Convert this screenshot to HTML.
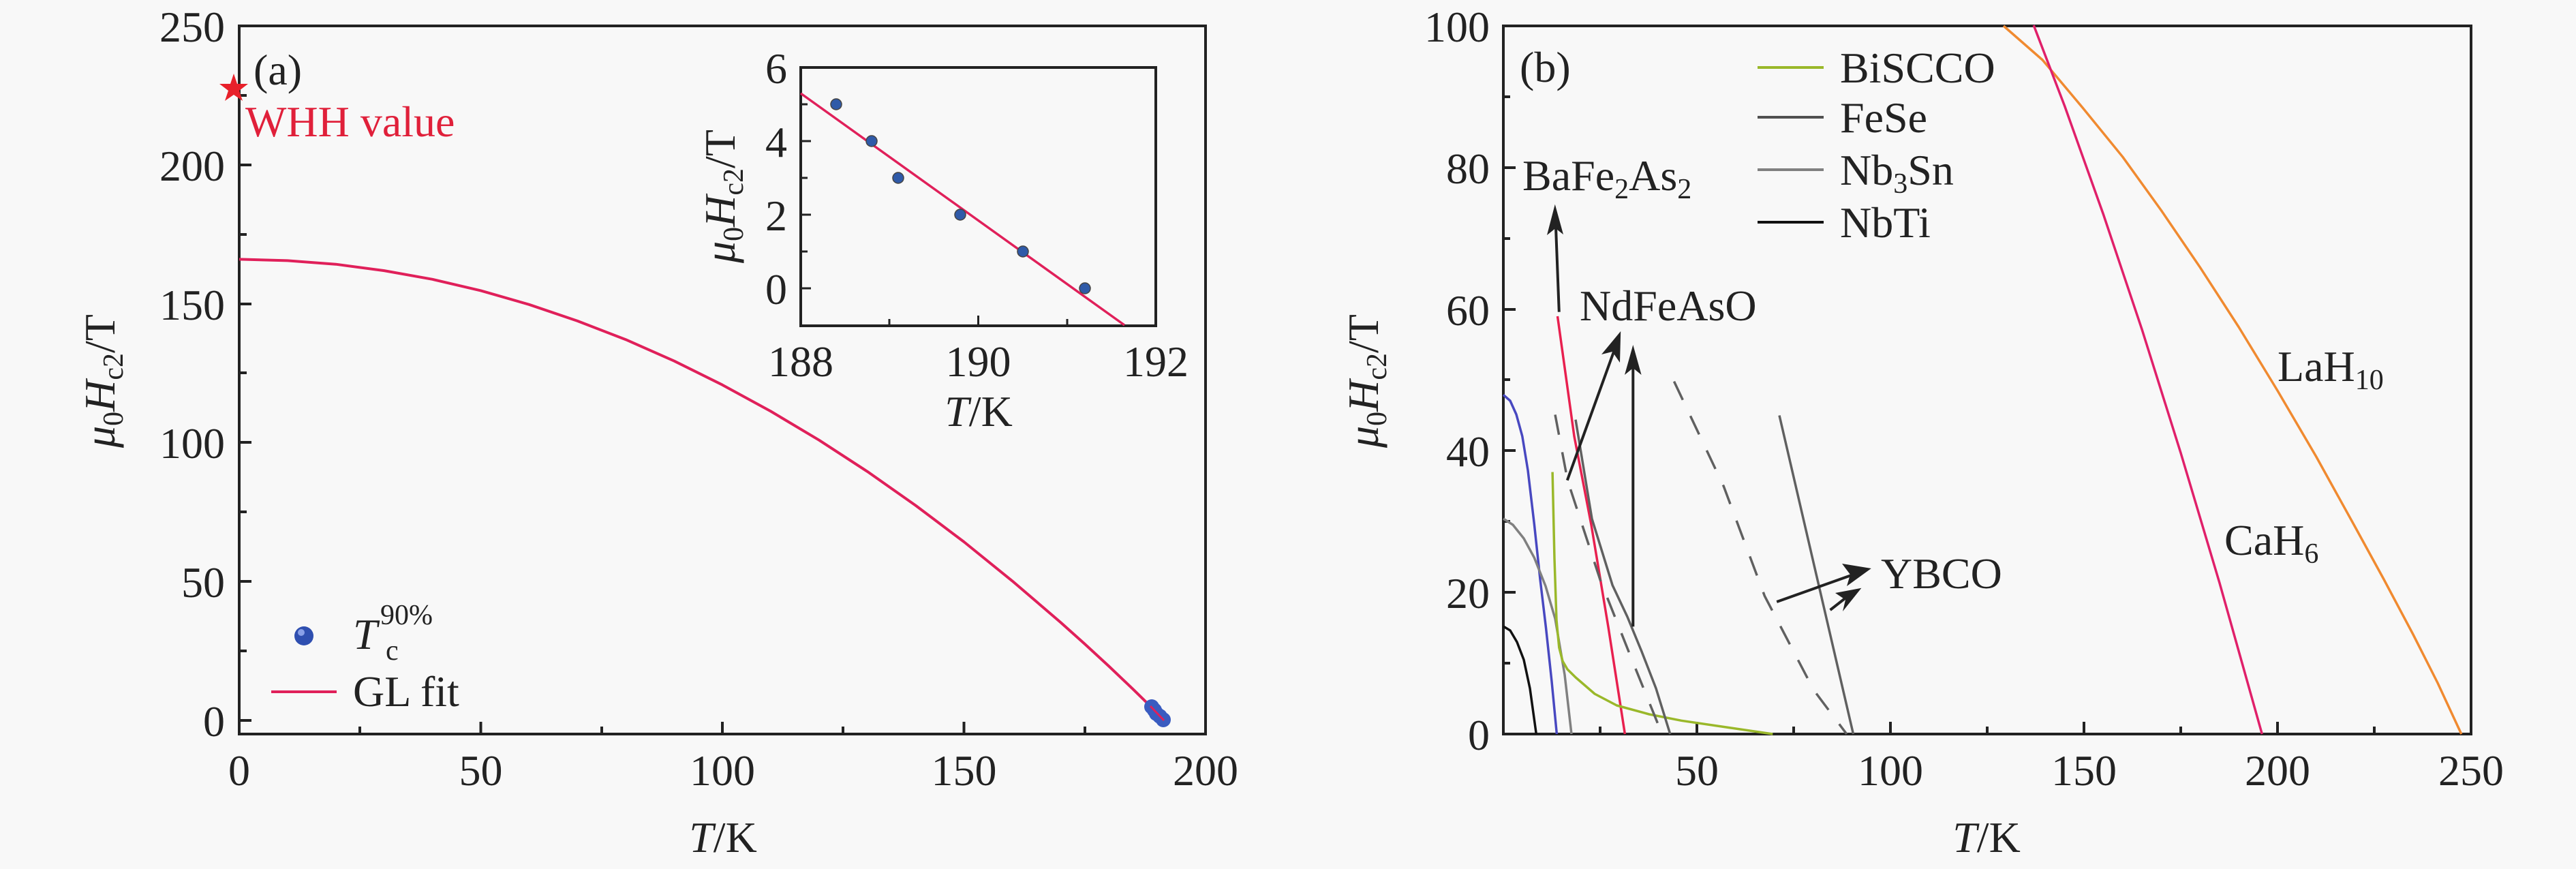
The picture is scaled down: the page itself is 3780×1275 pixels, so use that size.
<!DOCTYPE html>
<html><head><meta charset="utf-8"><style>
html,body{margin:0;padding:0;background:#f8f8f8;}
svg, svg text, svg tspan{font-family:"Liberation Serif","Noto Serif CJK SC","DejaVu Serif",serif;}
</style></head><body>
<svg width="3780" height="1270" viewBox="0 0 3780 1270" xmlns="http://www.w3.org/2000/svg">
<rect width="3780" height="1270" fill="#f8f8f8"/>
<g fill="#222" font-size="64">
<!-- ============ PANEL A ============ -->
<rect x="351" y="38" width="1418" height="1039" fill="none" stroke="#222" stroke-width="4"/>
<g stroke="#222" stroke-width="4">
<line x1="351" y1="1057" x2="369" y2="1057"/><line x1="351" y1="853" x2="369" y2="853"/><line x1="351" y1="649" x2="369" y2="649"/><line x1="351" y1="446" x2="369" y2="446"/><line x1="351" y1="242" x2="369" y2="242"/>
<line x1="351" y1="955" x2="362" y2="955"/><line x1="351" y1="751" x2="362" y2="751"/><line x1="351" y1="547" x2="362" y2="547"/><line x1="351" y1="344" x2="362" y2="344"/><line x1="351" y1="140" x2="362" y2="140"/>
<line x1="705.5" y1="1077" x2="705.5" y2="1059"/><line x1="1060" y1="1077" x2="1060" y2="1059"/><line x1="1414.5" y1="1077" x2="1414.5" y2="1059"/>
<line x1="528" y1="1077" x2="528" y2="1066"/><line x1="883" y1="1077" x2="883" y2="1066"/><line x1="1237" y1="1077" x2="1237" y2="1066"/><line x1="1592" y1="1077" x2="1592" y2="1066"/>
</g>
<g text-anchor="end">
<text x="330" y="1080">0</text><text x="330" y="876">50</text><text x="330" y="672">100</text><text x="330" y="469">150</text><text x="330" y="265">200</text><text x="330" y="61">250</text>
</g>
<g text-anchor="middle">
<text x="351" y="1152">0</text><text x="705.5" y="1152">50</text><text x="1060" y="1152">100</text><text x="1414.5" y="1152">150</text><text x="1769" y="1152">200</text>
<text x="1061" y="1250"><tspan font-style="italic">T</tspan>/K</text>
</g>
<text transform="translate(168,559) rotate(-90)" text-anchor="middle"><tspan font-style="italic">μ</tspan><tspan font-size="42" dy="12">0</tspan><tspan font-style="italic" dy="-12">H</tspan><tspan font-size="42" dy="12">c2</tspan><tspan dy="-12">/T</tspan></text>
<text x="372" y="124">(a)</text>
<polygon points="343,108 348,123 364,123 351,133 356,148 343,139 330,148 335,133 322,123 338,123" fill="#e8202a"/>
<text x="360" y="200" fill="#e0203a">WHH value</text>
<polyline fill="none" stroke="#e0205a" stroke-width="4" stroke-linejoin="round" points="351,380.4 421.9,382.4 492.8,387.7 563.7,397.1 634.6,409.8 705.5,426.4 776.4,446.8 847.3,470.9 918.2,498.2 989.1,529.6 1060,564.7 1130.9,603.4 1201.8,645.7 1272.7,691.8 1343.6,741.6 1414.5,795 1485.4,852.4 1556.3,913.1 1591.8,944.9 1627.2,977.5 1662.7,1011.3 1709.4,1057"/>
<g fill="#3a5cc0">
<circle cx="1690" cy="1037" r="11"/><circle cx="1694" cy="1042" r="11"/><circle cx="1697" cy="1047" r="11"/><circle cx="1702" cy="1051" r="11"/><circle cx="1707" cy="1056" r="11"/>
</g>
<line x1="1688" y1="1036" x2="1708" y2="1057" stroke="#e0205a" stroke-width="3"/>
<!-- legend -->
<circle cx="446" cy="933" r="14" fill="#2f4fb0"/><circle cx="442" cy="928" r="5" fill="#8aa0e8"/>
<text x="518" y="952"><tspan font-style="italic">T</tspan></text>
<text x="558" y="916" font-size="42">90%</text>
<text x="566" y="968" font-size="42">c</text>
<line x1="398" y1="1015" x2="494" y2="1015" stroke="#e0205a" stroke-width="4"/>
<text x="518" y="1036">GL fit</text>
<!-- inset -->
<rect x="1175" y="99" width="521" height="379" fill="none" stroke="#222" stroke-width="4"/>
<g stroke="#222" stroke-width="3">
<line x1="1175" y1="423" x2="1190" y2="423"/><line x1="1175" y1="315" x2="1190" y2="315"/><line x1="1175" y1="207" x2="1190" y2="207"/>
<line x1="1175" y1="369" x2="1185" y2="369"/><line x1="1175" y1="261" x2="1185" y2="261"/><line x1="1175" y1="153" x2="1185" y2="153"/>
<line x1="1435.5" y1="478" x2="1435.5" y2="463"/><line x1="1305" y1="478" x2="1305" y2="468"/><line x1="1566" y1="478" x2="1566" y2="468"/>
</g>
<g text-anchor="end">
<text x="1155" y="446">0</text><text x="1155" y="338">2</text><text x="1155" y="230">4</text><text x="1155" y="122">6</text>
</g>
<g text-anchor="middle">
<text x="1175" y="552">188</text><text x="1435.5" y="552">190</text><text x="1696" y="552">192</text>
<text x="1436" y="625"><tspan font-style="italic">T</tspan>/K</text>
</g>
<text transform="translate(1078,288) rotate(-90)" text-anchor="middle"><tspan font-style="italic">μ</tspan><tspan font-size="42" dy="12">0</tspan><tspan font-style="italic" dy="-12">H</tspan><tspan font-size="42" dy="12">c2</tspan><tspan dy="-12">/T</tspan></text>
<line x1="1175" y1="137" x2="1650" y2="477" stroke="#e0205a" stroke-width="3.5"/>
<g fill="#2f5aa8" stroke="#444" stroke-width="1.5">
<circle cx="1227" cy="153" r="8"/><circle cx="1279" cy="207" r="8"/><circle cx="1318" cy="261" r="8"/><circle cx="1409" cy="315" r="8"/><circle cx="1501" cy="369" r="8"/><circle cx="1592" cy="423" r="8"/>
</g>

<!-- ============ PANEL B ============ -->
<rect x="2206" y="38" width="1420" height="1039" fill="none" stroke="#222" stroke-width="4"/>
<g stroke="#222" stroke-width="4">
<line x1="2206" y1="869" x2="2224" y2="869"/><line x1="2206" y1="661" x2="2224" y2="661"/><line x1="2206" y1="454" x2="2224" y2="454"/><line x1="2206" y1="246" x2="2224" y2="246"/>
<line x1="2206" y1="973" x2="2216" y2="973"/><line x1="2206" y1="765" x2="2216" y2="765"/><line x1="2206" y1="557" x2="2216" y2="557"/><line x1="2206" y1="350" x2="2216" y2="350"/><line x1="2206" y1="142" x2="2216" y2="142"/>
<line x1="2490" y1="1077" x2="2490" y2="1059"/><line x1="2774" y1="1077" x2="2774" y2="1059"/><line x1="3058" y1="1077" x2="3058" y2="1059"/><line x1="3342" y1="1077" x2="3342" y2="1059"/>
<line x1="2348" y1="1077" x2="2348" y2="1066"/><line x1="2632" y1="1077" x2="2632" y2="1066"/><line x1="2916" y1="1077" x2="2916" y2="1066"/><line x1="3200" y1="1077" x2="3200" y2="1066"/><line x1="3484" y1="1077" x2="3484" y2="1066"/>
</g>
<g text-anchor="end">
<text x="2186" y="1100">0</text><text x="2186" y="892">20</text><text x="2186" y="684">40</text><text x="2186" y="477">60</text><text x="2186" y="269">80</text><text x="2186" y="61">100</text>
</g>
<g text-anchor="middle">
<text x="2490" y="1152">50</text><text x="2774" y="1152">100</text><text x="3058" y="1152">150</text><text x="3342" y="1152">200</text><text x="3626" y="1152">250</text>
<text x="2915" y="1250"><tspan font-style="italic">T</tspan>/K</text>
</g>
<text transform="translate(2022,559) rotate(-90)" text-anchor="middle"><tspan font-style="italic">μ</tspan><tspan font-size="42" dy="12">0</tspan><tspan font-style="italic" dy="-12">H</tspan><tspan font-size="42" dy="12">c2</tspan><tspan dy="-12">/T</tspan></text>
<text x="2230" y="120">(b)</text>
<!-- legend -->
<g stroke-width="4">
<line x1="2579" y1="99" x2="2676" y2="99" stroke="#9ab82a"/>
<line x1="2579" y1="172" x2="2676" y2="172" stroke="#505050"/>
<line x1="2579" y1="249" x2="2676" y2="249" stroke="#808080"/>
<line x1="2579" y1="326" x2="2676" y2="326" stroke="#111"/>
</g>
<text x="2700" y="121">BiSCCO</text>
<text x="2700" y="194">FeSe</text>
<text x="2700" y="271">Nb<tspan font-size="42" dy="12">3</tspan><tspan dy="-12">Sn</tspan></text>
<text x="2700" y="348">NbTi</text>
<!-- curves -->
<g fill="none" stroke-width="3.5" stroke-linejoin="round">
<polyline stroke="#f08a30" points="2940,38 2997.2,88 3056,158 3114.8,230.2 3171.6,309 3228.4,392.3 3285.2,480 3342,573.1 3398.8,670 3455.6,772.6 3498,850 3540.8,930.5 3577,1002 3611.8,1077"/>
<polyline stroke="#e0206a" points="2984.2,37 3029.6,155.4 3086.4,314.4 3143.2,483.7 3200,664.5 3256.8,854.7 3319.3,1077"/>
<polyline stroke="#e8204f" points="2285.5,464 2310,640 2335,770 2360,920 2384.4,1077"/>
<polyline stroke="#4848c0" points="2206,579.3 2216,588 2225,608 2233.8,640 2242,690 2251.4,769.5 2260,850 2268.5,921 2277,1000 2284.4,1077"/>
<polyline stroke="#808080" points="2206,761 2220,770 2236,790 2251.4,818.3 2268,860 2282,907.6 2296,990 2306,1077"/>
<polyline stroke="#111" points="2206,919 2216,925 2226,942 2236,968 2245,1010 2254.3,1077"/>
<polyline stroke="#9ab82a" points="2278.1,692.6 2281,820 2284,910 2287.8,950 2293,970 2300,982 2312.2,994 2340,1018 2372.4,1035 2420,1048 2467.3,1057.3 2540,1068 2601.3,1077"/>
<polyline stroke="#606060" points="2312,615.7 2336,761.2 2366.2,858.8 2388,905 2408.8,955.4 2430,1010 2450.8,1077"/>
<polyline stroke="#606060" stroke-dasharray="30,26" points="2282,608.4 2300.3,705 2348,850.5 2396.3,972 2438.9,1077"/>
<polyline stroke="#606060" stroke-dasharray="30,26" points="2456.5,559.6 2529.2,713.3 2589.4,874.4 2661.5,1012.6 2709.8,1077"/>
<line x1="2611" y1="609.5" x2="2719.5" y2="1077" stroke="#606060"/>
</g>
<!-- arrows -->
<g stroke="#222" stroke-width="4">
<line x1="2287.8" y1="457.7" x2="2282.5" y2="320"/>
<line x1="2299.8" y1="704.7" x2="2372" y2="505"/>
<line x1="2396.3" y1="919.4" x2="2396.3" y2="525"/>
<line x1="2607.2" y1="883" x2="2725" y2="841"/>
<line x1="2685.6" y1="895" x2="2715" y2="872"/>
</g>
<g fill="#222">
<polygon points="2281.8,299.7 2270,345 2282.5,335 2294,344"/>
<polygon points="2378.2,486 2350,520 2366,516 2377,532"/>
<polygon points="2396.3,506 2384,550 2396.3,540 2408.6,550"/>
<polygon points="2745.8,834 2703,827 2715,843 2710,860"/>
<polygon points="2731.4,862.7 2693,870 2708,880 2704,897"/>
</g>
<text x="2234" y="279">BaFe<tspan font-size="42" dy="12">2</tspan><tspan dy="-12">As</tspan><tspan font-size="42" dy="12">2</tspan></text>
<text x="2318" y="470">NdFeAsO</text>
<text x="2760" y="863">YBCO</text>
<text x="3342" y="559">LaH<tspan font-size="42" dy="12">10</tspan></text>
<text x="3264" y="814">CaH<tspan font-size="42" dy="12">6</tspan></text>
</g>
</svg>
</body></html>
